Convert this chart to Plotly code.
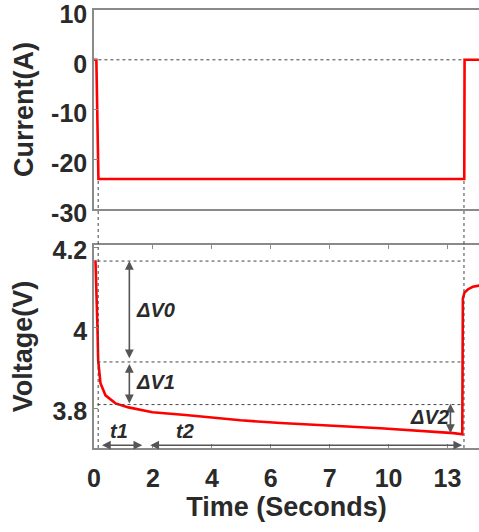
import plotly.graph_objects as go

# ---- data (x in tick-position units; tick labels are non-uniform seconds) ----
tick_pos = [0, 1, 2, 3, 4, 5, 6]
tick_labels = ["0", "2", "4", "6", "7", "10", "13"]

cur_ticks = [-30, -20, -10, 0, 10]
cur_tick_labels = ["-30", "-20", "-10", "0", "10"]
volt_ticks = [3.8, 4.0, 4.2]
volt_tick_labels = ["3.8", "4", "4.2"]

cur_x = [0.0, 0.04, 0.075, 6.285, 6.29, 6.6]
cur_y = [0, 0, -24, -24, 0, 0]

volt_x = [0.025, 0.042, 0.059, 0.071, 0.110, 0.195, 0.365, 0.586, 0.993, 1.553,
          2.487, 3.166, 4.864, 6.104, 6.223, 6.251, 6.261, 6.29, 6.35, 6.43, 6.6]
volt_y = [4.168, 4.10, 4.00, 3.919, 3.862, 3.832, 3.812, 3.802, 3.790, 3.783,
          3.770, 3.763, 3.750, 3.738, 3.735, 3.735, 4.073, 4.088, 4.096, 4.102, 4.107]

ref_levels = [4.166, 3.915, 3.809]
dV = [("ΔV0", 4.170, 3.924), ("ΔV1", 3.914, 3.812), ("ΔV2", 3.815, 3.738)]
t_marks = [0.071, 6.28]

cur_range = [-30.02, 10.02]
volt_range = [3.701, 4.206]
x_range = [0, 6.535]
top_dom = [0.5457, 1.0]
bot_dom = [0.0, 0.4635]

FONT = "Liberation Sans, Arial, sans-serif"
GRAY = "#8a8a8a"
TXT = "#2a2a2a"
DOT = "#444444"

def to_paper(v, rng, dom):
    return dom[0] + (v - rng[0]) / (rng[1] - rng[0]) * (dom[1] - dom[0])

fig = go.Figure()
fig.add_trace(go.Scatter(x=cur_x, y=cur_y, mode="lines", xaxis="x", yaxis="y",
                         line=dict(color="#ff0000", width=2.6), showlegend=False))
fig.add_trace(go.Scatter(x=volt_x, y=volt_y, mode="lines", xaxis="x2", yaxis="y2",
                         line=dict(color="#ff0000", width=2.6), showlegend=False))

shapes = []
shapes.append(dict(type="line", xref="x", yref="y", x0=0.075, x1=6.29, y0=0, y1=0,
                   line=dict(color=DOT, width=1, dash="dot")))
for i, lv in enumerate(ref_levels):
    shapes.append(dict(type="line", xref="x2", yref="y2", x0=0.06,
                       x1=6.27 if i < 2 else 6.22, y0=lv, y1=lv,
                       line=dict(color=DOT, width=1, dash="dot")))
for xm in t_marks:
    shapes.append(dict(type="line", xref="x2", yref="paper", x0=xm, x1=xm,
                       y0=bot_dom[0], y1=to_paper(-24, cur_range, top_dom),
                       line=dict(color=DOT, width=1, dash="dot")))
fig.update_layout(shapes=shapes)

annots = []
arrow_x = 0.6
arrow_x2 = 6.05
for i, (lab, ya, yb) in enumerate(dV):
    ax_ = arrow_x if i < 2 else arrow_x2
    annots.append(dict(x=ax_, y=yb, ax=ax_, ay=ya, xref="x2", yref="y2",
                       axref="x2", ayref="y2", text="", showarrow=True,
                       arrowhead=2, startarrowhead=2, arrowside="end+start",
                       arrowsize=1.1, arrowwidth=1.6, arrowcolor="#555"))
label_pos = [(1.05, 4.045, "ΔV0"), (1.05, 3.866, "ΔV1"), (5.7, 3.777, "ΔV2")]
for xx, yy, tt in label_pos:
    annots.append(dict(x=xx, y=yy, xref="x2", yref="y2", text="<b><i>" + tt + "</i></b>",
                       showarrow=False,
                       font=dict(family=FONT, size=20, color=TXT)))
t_arrows = [(0.11, 0.82), (0.93, 6.25)]
for xa, xb in t_arrows:
    annots.append(dict(x=xb, y=3.708, ax=xa, ay=3.708, xref="x2", yref="y2",
                       axref="x2", ayref="y2", text="", showarrow=True,
                       arrowhead=2, startarrowhead=2, arrowside="end+start",
                       arrowsize=1.1, arrowwidth=1.6, arrowcolor="#555"))
for xx, tt in [(0.43, "t1"), (1.55, "t2")]:
    annots.append(dict(x=xx, y=3.743, xref="x2", yref="y2", text="<b><i>" + tt + "</i></b>",
                       showarrow=False,
                       font=dict(family=FONT, size=20, color=TXT)))
fig.update_layout(annotations=annots)

axis_common = dict(showgrid=False, zeroline=False, linecolor=GRAY, linewidth=1.5,
                   tickcolor=GRAY, ticks="inside", ticklen=4,
                   ticklabeloverflow="allow",
                   tickfont=dict(family=FONT, size=25, color=TXT, weight="bold"))
title_font = dict(family=FONT, size=27, color=TXT, weight="bold")

fig.update_layout(
    width=479, height=532,
    margin=dict(l=94, r=0, t=10, b=84, autoexpand=False),
    paper_bgcolor="white", plot_bgcolor="white",
    xaxis=dict(domain=[0, 1], anchor="y", range=x_range, matches="x2",
               showline=True, mirror=True, showticklabels=False,
               showgrid=False, zeroline=False, linecolor=GRAY, linewidth=1.5,
               ticks=""),
    yaxis=dict(domain=top_dom, anchor="x", range=cur_range,
               tickvals=cur_ticks, ticktext=cur_tick_labels, showline=True,
               ticklabelshift=4,
               title=dict(text="Current(A)", font=title_font, standoff=10),
               **axis_common),
    xaxis2=dict(domain=[0, 1], anchor="y2", range=x_range,
                tickvals=tick_pos, ticktext=tick_labels, showline=True,
                mirror="ticks", ticklabelstandoff=7,
                title=dict(text="Time (Seconds)", font=title_font, standoff=6),
                **axis_common),
    yaxis2=dict(domain=bot_dom, anchor="x2", range=volt_range,
                tickvals=volt_ticks, ticktext=volt_tick_labels,
                showline=True, ticklabelshift=3,
                title=dict(text="Voltage(V)", font=title_font, standoff=12),
                **axis_common),
)

fig.write_html("out.html")
